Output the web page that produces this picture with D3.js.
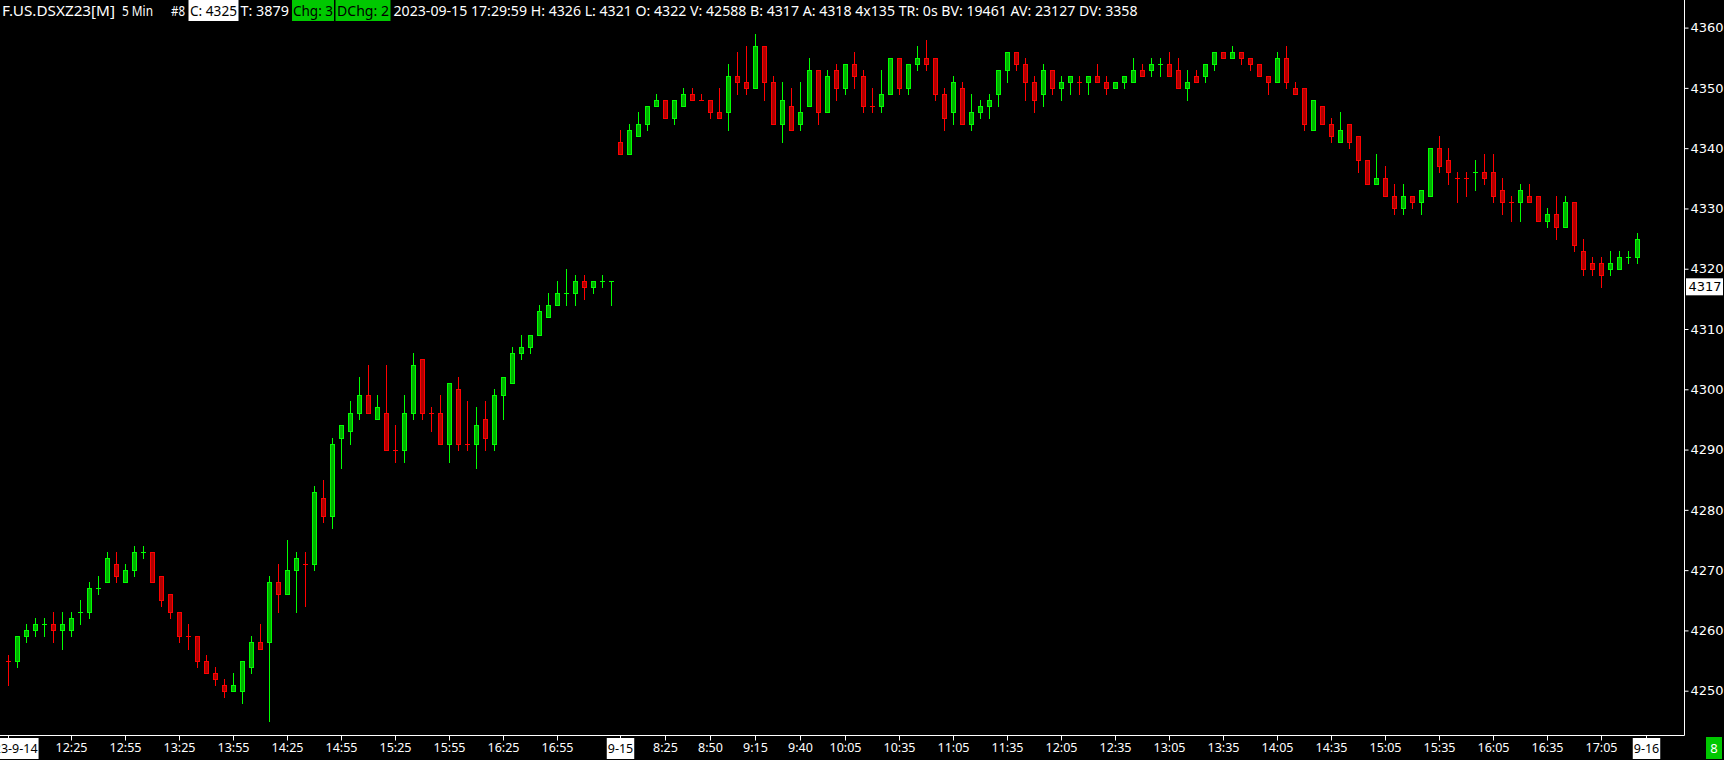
<!DOCTYPE html>
<html><head><meta charset="utf-8">
<script src="https://cdn.jsdelivr.net/npm/d3@7"></script>
<style>html,body{margin:0;padding:0;background:#000;overflow:hidden}</style>
</head><body>
<svg id="chart" width="1724" height="760"></svg>
<script>
// ---- DATA (5-min bars, 2023-09-14 11:50 .. 2023-09-15 17:25) ----
const opens = [
4255,4255,4259,4260,4261,4261,4260,4260,4263,4263,4267,4268,4271,4268,4270,4273,4273,4269,4266,4263,
4259,4259,4255,4253,4251,4250,4250,4254,4258,4258,4268,4266,4270,4271,4271,4282,4279,4292,4293,4296,
4299,4295,4296,4290,4290,4296,4305,4296,4296,4291,4300,4291,4291,4295,4291,4299,4301,4306,4307,4309,
4312,4314,4316,4316,4318,4317,4318,4318,
4341,4339,4342,4344,4347,4348,4345,4347,4349,4348,4348,4346,4346,4352,4351,4350,4357,4351,4344,4347,
4344,4347,4353,4346,4353,4350,4354,4352,4347,4347,4349,4355,4350,4354,4355,4355,4349,4346,4350,4344,
4346,4347,4349,4353,4356,4354,4351,4349,4353,4350,4351,4351,4351,4352,4351,4350,4351,4351,4353,4353,
4354,4354,4353,4350,4352,4352,4354,4356,4355,4356,4355,4354,4352,4351,4355,4350,4350,4343,4347,4344,
4341,4344,4342,4338,4334,4335,4332,4330,4332,4331,4332,4340,4338,4335,4335,4336,4336,4336,4333,4331,
4331,4332,4332,4328,4329,4327,4331,4323,4321,4321,4320,4320,4322,4322];
const highs = [
4256,4259,4261,4262,4262,4263,4263,4263,4265,4268,4269,4273,4273,4271,4274,4274,4273,4269,4266,4263,
4261,4259,4256,4254,4252,4253,4255,4259,4261,4269,4271,4275,4273,4273,4284,4285,4292,4294,4298,4302,
4304,4299,4304,4294,4299,4306,4305,4297,4299,4301,4302,4298,4297,4298,4300,4302,4307,4309,4309,4314,
4316,4318,4320,4319,4319,4318,4319,4318,
4343,4344,4346,4347,4349,4348,4348,4350,4350,4349,4348,4350,4354,4356,4357,4359,4357,4352,4351,4350,
4351,4355,4353,4353,4354,4354,4356,4353,4350,4353,4355,4355,4354,4357,4358,4355,4350,4352,4351,4349,
4348,4349,4353,4356,4356,4355,4352,4354,4353,4352,4352,4352,4352,4354,4352,4351,4352,4355,4354,4355,
4355,4356,4355,4353,4353,4354,4356,4356,4357,4356,4355,4354,4352,4356,4357,4351,4350,4348,4347,4345,
4346,4344,4342,4338,4339,4337,4334,4334,4332,4333,4340,4342,4340,4336,4336,4338,4339,4339,4335,4332,
4334,4334,4332,4330,4332,4332,4331,4325,4322,4322,4323,4323,4323,4326];
const lows = [
4251,4254,4258,4259,4259,4258,4257,4259,4261,4262,4266,4268,4268,4268,4269,4272,4268,4264,4262,4258,
4257,4254,4253,4251,4249,4250,4248,4253,4257,4245,4263,4266,4263,4264,4270,4278,4277,4287,4291,4295,
4296,4295,4290,4288,4288,4295,4295,4293,4291,4288,4290,4290,4287,4290,4290,4295,4301,4305,4306,4309,
4312,4314,4314,4314,4315,4316,4317,4314,
4339,4339,4342,4343,4347,4345,4344,4347,4348,4348,4345,4345,4343,4349,4349,4350,4348,4344,4341,4343,
4343,4347,4344,4346,4348,4349,4350,4346,4346,4346,4349,4349,4349,4353,4353,4348,4343,4344,4344,4343,
4345,4345,4347,4351,4353,4348,4346,4347,4349,4348,4349,4349,4349,4351,4349,4350,4350,4351,4352,4352,
4352,4352,4350,4348,4351,4351,4353,4355,4355,4354,4353,4352,4349,4351,4350,4349,4343,4343,4344,4341,
4341,4340,4336,4334,4334,4332,4329,4329,4330,4329,4332,4336,4334,4331,4332,4333,4334,4331,4329,4328,
4328,4331,4328,4327,4325,4327,4323,4319,4319,4317,4319,4320,4321,4321];
const closes = [
4255,4259,4260,4261,4261,4260,4261,4262,4263,4267,4267,4272,4269,4270,4273,4273,4268,4265,4263,4259,
4259,4255,4253,4252,4250,4251,4255,4258,4257,4268,4266,4270,4272,4271,4283,4279,4291,4294,4296,4299,
4296,4297,4290,4290,4296,4304,4296,4296,4291,4301,4291,4291,4294,4292,4299,4302,4306,4307,4309,4313,
4314,4316,4316,4318,4317,4318,4318,4318,
4339,4343,4344,4347,4348,4345,4348,4349,4348,4348,4346,4345,4352,4351,4350,4357,4351,4344,4348,4343,
4346,4353,4346,4352,4350,4354,4352,4347,4347,4349,4355,4350,4354,4355,4354,4349,4345,4351,4344,4346,
4347,4348,4353,4356,4354,4351,4348,4353,4350,4351,4352,4351,4352,4351,4350,4351,4352,4353,4352,4354,
4354,4352,4350,4351,4351,4354,4356,4355,4356,4355,4354,4352,4351,4355,4351,4349,4344,4348,4344,4342,
4343,4341,4338,4334,4335,4332,4330,4332,4331,4333,4340,4337,4336,4335,4335,4336,4335,4332,4331,4331,
4333,4331,4328,4329,4327,4331,4324,4320,4320,4319,4321,4322,4322,4325];

const priceTicks = [4250,4260,4270,4280,4290,4300,4310,4320,4330,4340,4350,4360];
const timeLabels = ["12:25","12:55","13:25","13:55","14:25","14:55","15:25","15:55","16:25","16:55",
  "8:25","8:50","9:15","9:40","10:05","10:35","11:05","11:35","12:05","12:35","13:05","13:35",
  "14:05","14:35","15:05","15:35","16:05","16:35","17:05"];
const timeLabelBars = [7,13,19,25,31,37,43,49,55,61,
  73,78,83,88,93,99,105,111,117,123,129,135,141,147,153,159,165,171,177];
const dateLabels = ["2023-9-14","9-15","9-16"];
const dateLabelBars = [0,68,182];
const bidPrice = 4317;
const headerParts = ["F.US.DSXZ23[M]","5 Min","#8","C: 4325","T: 3879","Chg: 3","DChg: 2",
  "2023-09-15 17:29:59 H: 4326 L: 4321 O: 4322 V: 42588 B: 4317 A: 4318 4x135 TR: 0s BV: 19461 AV: 23127 DV: 3358"];

// ---- DRAW ----
const W = 1724, H = 760;
const axisX = 1684.5, axisY = 735.5;
const svg = d3.select("#chart");
svg.append("rect").attr("width", W).attr("height", H).attr("fill", "#000");

const x = d3.scaleLinear().domain([0, 182]).range([8, 1646]);
const y = d3.scaleLinear().domain([4250, 4360]).range([690.7, 27.6]);
const px = v => Math.round(v) + 0.5;

const bars = opens.map((o, i) => ({ i, o, h: highs[i], l: lows[i], c: closes[i] }));
bars.forEach((b, i) => {
  if (b.c > b.o) b.up = true;
  else if (b.c < b.o) b.up = false;
  else if (i === 0) b.up = false;
  else {
    const pc = closes[i - 1];
    b.up = b.c > pc ? true : b.c < pc ? false : bars[i - 1].up;
  }
});
const UP = "#00ff00", UPF = "#00b000", DN = "#ff0000", DNF = "#b00000";

const g = svg.append("g");
const cg = g.selectAll("g.c").data(bars).join("g").attr("class", "c");
cg.append("line")
  .attr("x1", d => px(x(d.i))).attr("x2", d => px(x(d.i)))
  .attr("y1", d => Math.round(y(d.h))).attr("y2", d => Math.round(y(d.l)) + 1)
  .attr("stroke", d => d.up ? UP : DN).attr("stroke-width", 1);
cg.filter(d => d.o !== d.c).append("rect")
  .attr("x", d => px(x(d.i)) - 2).attr("width", 4)
  .attr("y", d => px(y(Math.max(d.o, d.c))))
  .attr("height", d => px(y(Math.min(d.o, d.c))) - px(y(Math.max(d.o, d.c))))
  .attr("fill", d => d.up ? UPF : DNF)
  .attr("stroke", d => d.up ? UP : DN).attr("stroke-width", 1);
cg.filter(d => d.o === d.c).append("line")
  .attr("x1", d => Math.round(x(d.i)) - 2).attr("x2", d => Math.round(x(d.i)) + 3)
  .attr("y1", d => px(y(d.c))).attr("y2", d => px(y(d.c)))
  .attr("stroke", d => d.up ? UP : DN).attr("stroke-width", 1);

// axes lines
svg.append("line").attr("x1", axisX).attr("x2", axisX).attr("y1", 0).attr("y2", axisY)
  .attr("stroke", "#fff").attr("stroke-width", 1);
svg.append("line").attr("x1", 0).attr("x2", axisX).attr("y1", axisY).attr("y2", axisY)
  .attr("stroke", "#fff").attr("stroke-width", 1);

// right price axis
const ya = svg.append("g").attr("transform", `translate(${axisX},0)`)
  .call(d3.axisRight(y).tickValues(priceTicks).tickSize(4).tickPadding(2).tickFormat(d3.format("d")));
ya.select(".domain").remove();
ya.selectAll(".tick line").attr("stroke", "#fff");
ya.selectAll(".tick text").attr("fill", "#fff").attr("font-family", "DejaVu Sans").attr("font-size", 13);

// bid price marker
const bp = svg.append("g").attr("transform", `translate(1686,${y(bidPrice)})`);
bp.append("rect").attr("x", 0).attr("y", -8.5).attr("width", 37).attr("height", 17).attr("fill", "#fff");
bp.append("text").attr("x", 2.5).attr("y", 0).attr("dy", "0.35em").attr("fill", "#000")
  .attr("font-family", "DejaVu Sans").attr("font-size", 13).text(bidPrice);

// bottom time axis
const labelMap = new Map(timeLabelBars.map((b, k) => [b, timeLabels[k]]));
const xa = svg.append("g").attr("transform", `translate(0,${axisY})`)
  .call(d3.axisBottom(x).tickValues(timeLabelBars).tickSize(5).tickPadding(3).tickFormat(b => labelMap.get(b)));
xa.select(".domain").remove();
xa.selectAll(".tick line").attr("stroke", "#fff");
xa.selectAll(".tick text").attr("fill", "#fff").attr("font-family", "Noto Sans").attr("font-size", 12.5);

// date labels
dateLabels.forEach((t, k) => {
  const cx = Math.round(x(dateLabelBars[k])) + 0.5;
  svg.append("line").attr("x1", cx).attr("x2", cx).attr("y1", axisY).attr("y2", axisY + 5).attr("stroke", "#fff");
  const tx = svg.append("text").attr("x", cx).attr("y", 753).attr("text-anchor", "middle")
    .attr("fill", "#000").attr("font-family", "Noto Sans").attr("font-size", 12.5).text(t);
  const bb = tx.node().getBBox();
  svg.insert("rect", () => tx.node()).attr("x", bb.x - 1).attr("y", 738).attr("width", bb.width + 2)
    .attr("height", 21).attr("fill", "#fff");
});

// bottom-right counter
svg.append("rect").attr("x", 1706).attr("y", 737).attr("width", 16).attr("height", 22).attr("fill", "#00c800");
svg.append("text").attr("x", 1714).attr("y", 753).attr("text-anchor", "middle").attr("fill", "#fff")
  .attr("font-family", "Noto Sans").attr("font-size", 13).text("8");

// header
const hdr = [
  { x: 2, w: 113, fg: "#fff" },
  { x: 122, w: 31, fg: "#fff" },
  { x: 171, w: 14, fg: "#fff" },
  { x: 190, w: 47, fg: "#000", bg: "#fff", bx: 188.5, bw: 50 },
  { x: 240.5, w: 48.5, fg: "#fff" },
  { x: 293, w: 40, fg: "#000", bg: "#00c800", bx: 292, bw: 42 },
  { x: 337, w: 52, fg: "#000", bg: "#00c800", bx: 335.5, bw: 55 },
  { x: 393.5, w: 744, fg: "#fff" }
];
hdr.forEach((h, k) => {
  if (h.bg) svg.append("rect").attr("x", h.bx).attr("y", 0).attr("width", h.bw).attr("height", 21).attr("fill", h.bg);
  svg.append("text").attr("x", h.x).attr("y", 15.5).attr("fill", h.fg)
    .attr("font-family", "Noto Sans").attr("font-size", 14)
    .attr("textLength", h.w).attr("lengthAdjust", "spacingAndGlyphs")
    .text(headerParts[k]);
});
</script>
</body></html>
